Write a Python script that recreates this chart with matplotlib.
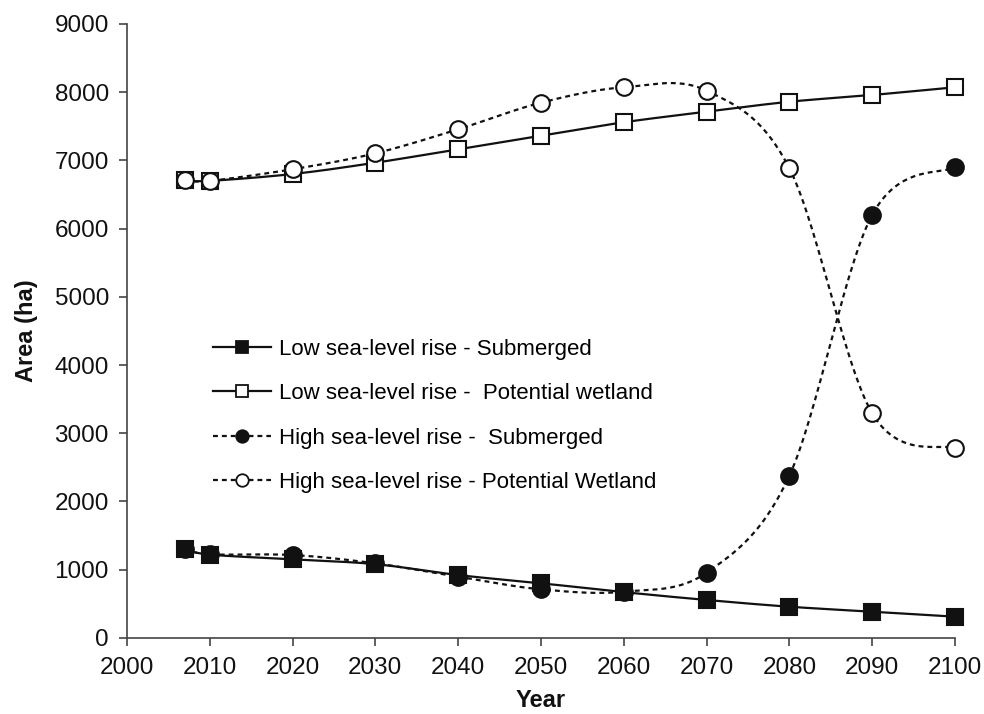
import numpy as np
import matplotlib
matplotlib.use("Agg")
import matplotlib.pyplot as plt

years = [2007, 2010, 2020, 2030, 2040, 2050, 2060, 2070, 2080, 2090, 2100]
low_submerged = [1300, 1220, 1150, 1080, 920, 800, 670, 555, 456, 383, 310]
low_wetland = [6710, 6700, 6800, 6966, 7163, 7362, 7559, 7714, 7860, 7959, 8072]
high_submerged = [1302, 1224, 1214, 1092, 896, 711, 676, 955, 2377, 6200, 6899]
high_wetland = [6710, 6700, 6870, 7104, 7456, 7846, 8072, 8022, 6884, 3292, 2779]

labels = [
    "Low sea-level rise - Submerged",
    "Low sea-level rise -  Potential wetland",
    "High sea-level rise -  Submerged",
    "High sea-level rise - Potential Wetland",
]


def smooth(x, y, n=30):
    # Excel-style smoothed line: Catmull-Rom control points on cubic Bezier
    p = np.column_stack([x, y]).astype(float)
    out = [p[0]]
    t = np.linspace(0, 1, n)[1:, None]
    for i in range(len(p) - 1):
        p0 = p[i - 1] if i > 0 else p[i]
        p3 = p[i + 2] if i + 2 < len(p) else p[i + 1]
        c1 = p[i] + (p[i + 1] - p0) / 6
        c2 = p[i + 1] - (p3 - p[i]) / 6
        seg = ((1 - t) ** 3 * p[i] + 3 * (1 - t) ** 2 * t * c1
               + 3 * (1 - t) * t ** 2 * c2 + t ** 3 * p[i + 1])
        out.extend(seg)
    out = np.array(out)
    return out[:, 0], out[:, 1]


plt.rcParams['font.family'] = ['Liberation Sans', 'DejaVu Sans']

fig = plt.figure(figsize=(9.84, 7.14), dpi=100)
ax = fig.add_axes([0.129, 0.1067, 0.8415, 0.8597])

dash = (0, (2.2, 1.8))
styles = [
    dict(ls='-', marker='s', mfc='#111111'),
    dict(ls='-', marker='s', mfc='white'),
    dict(ls=dash, marker='o', mfc='#111111'),
    dict(ls=dash, marker='o', mfc='white'),
]
series = [low_submerged, low_wetland, high_submerged, high_wetland]

for vals, st, lab in zip(series, styles, labels):
    sx, sy = smooth(years, vals)
    ax.plot(sx, sy, color='#111111', lw=1.6, ls=st['ls'], zorder=2, clip_on=False)
    ms = 11 if st['marker'] == 's' else 12
    ax.plot(years, vals, ls='none', marker=st['marker'], ms=ms,
            mfc=st['mfc'], mec='#111111', mew=1.5, zorder=3, clip_on=False)
    # legend proxy
    ax.plot([], [], color='#111111', lw=1.6, ls=st['ls'], marker=st['marker'],
            ms=ms * 0.75, mfc=st['mfc'], mec='#111111', mew=1.3, label=lab)

ax.set_xlim(2000, 2100)
ax.set_ylim(0, 9000)
ax.set_xticks(range(2000, 2101, 10))
ax.set_yticks(range(0, 9001, 1000))

for s in ['top', 'right']:
    ax.spines[s].set_visible(False)
for s in ['left', 'bottom']:
    ax.spines[s].set_color('#444444')
    ax.spines[s].set_linewidth(1.2)
ax.tick_params(direction='out', length=6, width=1.2, color='#444444',
               labelsize=17.5, labelcolor='#111111')
ax.tick_params(axis='x', pad=8)
ax.tick_params(axis='y', pad=7)

ax.set_xlabel('Year', fontsize=17, fontweight='bold', color='#111111')
ax.set_ylabel('Area (ha)', fontsize=17, fontweight='bold', color='#111111')
ax.xaxis.set_label_coords(0.5, -0.083)
ax.yaxis.set_label_coords(-0.108, 0.5)

ax.legend(loc='upper left', bbox_to_anchor=(0.104, 0.487), frameon=False,
          fontsize=16, borderpad=0, handlelength=2.6, handletextpad=0.35,
          labelspacing=1.05, borderaxespad=0)

fig.savefig('out.png', dpi=100)
